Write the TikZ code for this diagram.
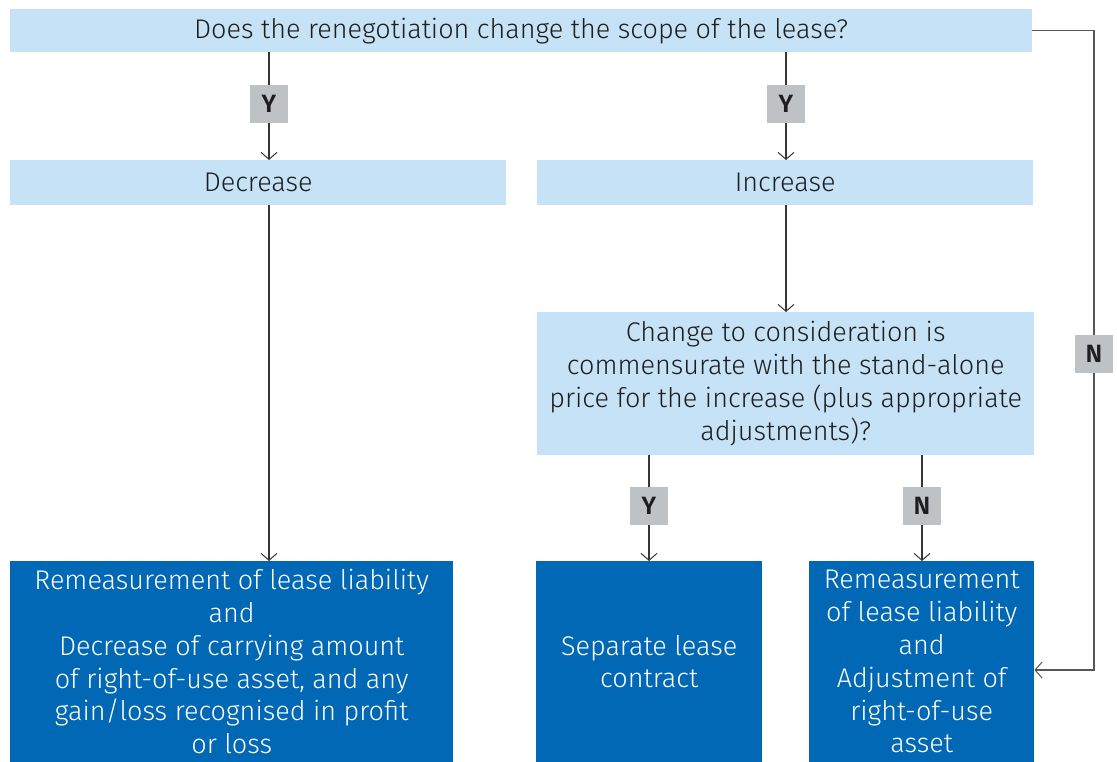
\documentclass[tikz,border=0pt]{standalone}
\usepackage{fontspec}
\setmainfont{Fira Sans}[UprightFont={* Light},BoldFont={* SemiBold}]
\usetikzlibrary{arrows.meta}
\definecolor{lblue}{RGB}{198,226,246}
\definecolor{dblue}{RGB}{0,104,180}
\definecolor{lgray}{RGB}{190,194,197}
\definecolor{ink}{RGB}{30,30,30}
\tikzset{
  box/.style={rectangle, inner sep=0pt, anchor=north west, align=center,
    font=\fontsize{27}{32.8}\selectfont},
  lbox/.style={box, fill=lblue, text=ink},
  dbox/.style={box, fill=dblue, text=white},
  lab/.style={rectangle, fill=lgray, inner sep=0pt, minimum width=38pt, minimum height=38pt,
    font=\fontsize{25}{28}\selectfont\bfseries, text=ink},
  arr/.style={draw=ink!90, line width=1.1pt, -{Straight Barb[length=7pt,width=16pt,line width=1pt]}},
}
\begin{document}
\begin{tikzpicture}[x=1pt,y=-1pt]
\useasboundingbox (0,0) rectangle (1117,762);
\node[lbox, minimum width=1022pt, minimum height=43pt] (top) at (10,9) {Does the renegotiation change the scope of the lease?};
\node[lbox, minimum width=496pt, minimum height=45pt] (dec) at (10,160) {Decrease};
\node[lbox, minimum width=496pt, minimum height=45pt] (inc) at (537,160) {Increase};
\node[lbox, minimum width=497pt, minimum height=143pt] (q2) at (537,312) {Change to consideration is\\commensurate with the stand-alone\\price for the increase (plus appropriate\\adjustments)?};
\node[dbox, minimum width=443pt, minimum height=201pt] (r1) at (10,561) {Remeasurement of lease liability\\and\\Decrease of carrying amount\\of right-of-use asset, and any\\gain/loss recognised in profit\\or loss};
\node[dbox, minimum width=226pt, minimum height=201pt] (r2) at (536,561) {Separate lease\\contract};
\node[dbox, minimum width=225pt, minimum height=201pt] (r3) at (809,561) {Remeasurement\\of lease liability\\and\\Adjustment of\\right-of-use\\asset};
\coordinate (c1) at (269,0);
\coordinate (c2) at (786,0);
\coordinate (c3) at (649,0);
\coordinate (c4) at (922,0);
\coordinate (nx) at (1094,0);
\coordinate (ny) at (0,670);
\draw[arr] (top.south -| c1) -- node[lab, pos=0.48] (y1) {Y} (dec.north -| c1);
\draw[arr] (top.south -| c2) -- node[lab, pos=0.48] (y2) {Y} (inc.north -| c2);
\draw[arr] (dec.south -| c1) -- (r1.north -| c1);
\draw[arr] (inc.south -| c2) -- (q2.north -| c2);
\draw[arr] (q2.south -| c3) -- node[lab, pos=0.48] (y3) {Y} (r2.north -| c3);
\draw[arr] (q2.south -| c4) -- node[lab, pos=0.48] (n1) {N} (r3.north -| c4);
\draw[arr, draw=ink!75] (top.east) -- (top.east -| nx) -- node[lab, pos=0.505] (n2) {N} (nx |- ny) -- (r3.east |- ny);
\end{tikzpicture}
\end{document}
